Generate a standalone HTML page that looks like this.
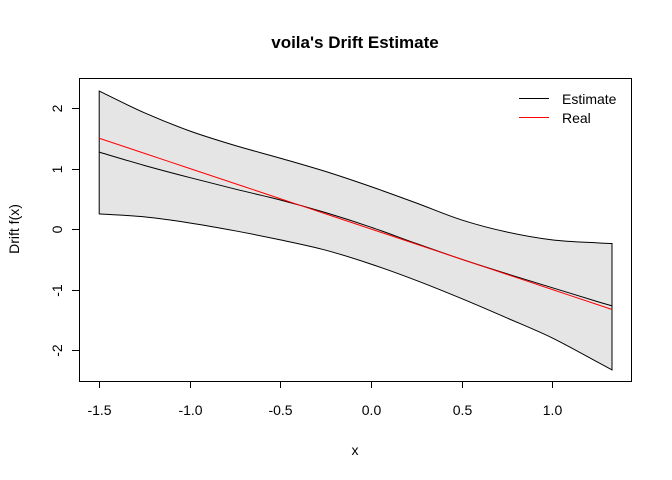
<!DOCTYPE html>
<html><head><meta charset="utf-8"><style>
body{margin:0;background:#fff}
svg{display:block;font-family:"Liberation Sans",sans-serif}
</style></head><body>
<svg width="672" height="480">
<g id="plot"></g>
</svg>
<script>
const xs=[-1.5,-1.25,-1.0,-0.75,-0.5,-0.25,0,0.25,0.5,0.75,1.0,1.25,1.33];
const upper=[2.28,1.92,1.62,1.38,1.17,0.95,0.7,0.43,0.15,-0.05,-0.18,-0.23,-0.24];
const lower=[0.25,0.2,0.1,-0.03,-0.18,-0.35,-0.58,-0.85,-1.15,-1.47,-1.8,-2.2,-2.33];
const estimate=[1.27,1.05,0.85,0.66,0.48,0.27,0.03,-0.24,-0.5,-0.74,-0.97,-1.2,-1.27];
const real=[1.5,1.25,1.0,0.75,0.5,0.25,0,-0.25,-0.5,-0.75,-1.0,-1.25,-1.33];
const xTicks=[-1.5,-1.0,-0.5,0.0,0.5,1.0];
const xTickLabels=["-1.5","-1.0","-0.5","0.0","0.5","1.0"];
const yTicks=[-2,-1,0,1,2];
const yTickLabels=["-2","-1","0","1","2"];

const sx=v=>371+v*181.2;
const sy=v=>229-v*60.5;
const NS="http://www.w3.org/2000/svg";
const g=document.getElementById('plot');
function mk(tag,attrs,text){const e=document.createElementNS(NS,tag);for(const k in attrs)e.setAttribute(k,attrs[k]);if(text!==undefined)e.textContent=text;g.appendChild(e);return e;}
function spline(px,py){
  let d="M"+px[0]+","+py[0];
  for(let i=0;i<px.length-1;i++){
    const i0=Math.max(0,i-1),i3=Math.min(px.length-1,i+2);
    const c1x=px[i]+(px[i+1]-px[i0])/6,c1y=py[i]+(py[i+1]-py[i0])/6;
    const c2x=px[i+1]-(px[i3]-px[i])/6,c2y=py[i+1]-(py[i3]-py[i])/6;
    d+=` C${c1x},${c1y} ${c2x},${c2y} ${px[i+1]},${py[i+1]}`;
  }
  return d;
}
const px=xs.map(sx);
const up=spline(px,upper.map(sy));
const rpx=px.slice().reverse(), rlo=lower.map(sy).reverse();
const lo=spline(rpx,rlo).replace(/^M/,"L");
let band=mk('path',{d:up+" "+lo+" Z",fill:"#e5e5e5",stroke:"#000","stroke-width":1});


let est=mk('path',{d:spline(px,estimate.map(sy)),fill:"none",stroke:"#000","stroke-width":1});


let rl=mk('path',{d:spline(px,real.map(sy)),fill:"none",stroke:"#ff0000","stroke-width":1});


let box=mk('rect',{x:79.5,y:78.5,width:552,height:303,fill:"none",stroke:"#000"});


let xa=mk('line',{x1:sx(xTicks[0]),x2:sx(xTicks[xTicks.length-1]),y1:381.5,y2:381.5,stroke:"#000"});


xTicks.forEach((t,i)=>{
  const x=Math.round(sx(t))+0.5;
  let l=mk('line',{x1:x,x2:x,y1:381,y2:388,stroke:"#000"});
  
  
  let tx=mk('text',{x:x,y:415,"text-anchor":"middle","font-size":14},xTickLabels[i]);
  
  
});
let ya=mk('line',{x1:79.5,x2:79.5,y1:sy(yTicks[0]),y2:sy(yTicks[yTicks.length-1]),stroke:"#000"});


yTicks.forEach((t,i)=>{
  const y=Math.round(sy(t))+0.5;
  let l=mk('line',{x1:72,x2:79.5,y1:y,y2:y,stroke:"#000"});
  
  
  let tx=mk('text',{x:62,y:y,"text-anchor":"middle","font-size":14,transform:`rotate(-90 62 ${y})`},yTickLabels[i]);
  
  
});
let title=mk('text',{x:355,y:48,"text-anchor":"middle","font-size":17,"font-weight":"bold"},"voila's Drift Estimate");


let xl=mk('text',{x:355,y:455,"text-anchor":"middle","font-size":14},"x");


let yl=mk('text',{x:19,y:229,"text-anchor":"middle","font-size":14,transform:"rotate(-90 19 229)"},"Drift f(x)");


let l1=mk('line',{x1:519,x2:549,y1:98.5,y2:98.5,stroke:"#000"});


let t1=mk('text',{x:562,y:104,"font-size":14},"Estimate");


let l2=mk('line',{x1:519,x2:549,y1:117.5,y2:117.5,stroke:"#ff0000"});


let t2=mk('text',{x:562,y:123,"font-size":14},"Real");


</script>
</body></html>
